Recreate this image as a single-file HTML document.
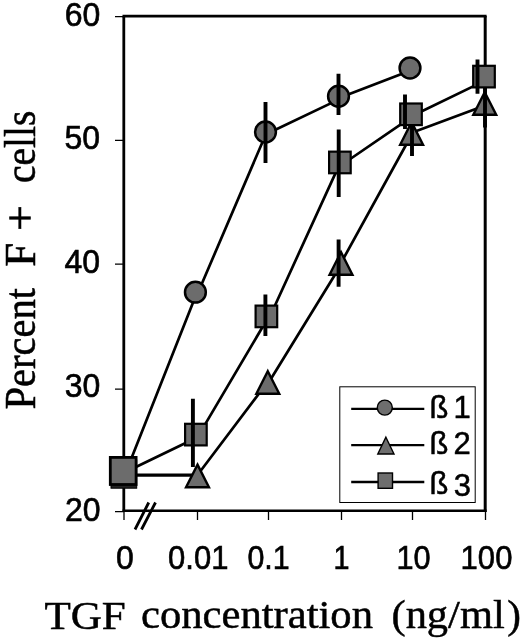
<!DOCTYPE html>
<html><head><meta charset="utf-8">
<style>
html,body{margin:0;padding:0;background:#fff;}
svg{display:block;}
.tk{font-family:"Liberation Sans",Arial,sans-serif;font-size:32px;fill:#000;stroke:#000;stroke-width:0.6px;}
.tt{font-family:"Liberation Serif","Times New Roman",serif;font-size:41px;fill:#000;stroke:#000;stroke-width:0.5px;}
.lg{font-family:"Liberation Sans",Arial,sans-serif;font-size:31px;fill:#000;stroke:#000;stroke-width:0.5px;}
</style></head><body>
<svg width="520" height="639" viewBox="0 0 520 639">
<rect width="520" height="639" fill="#fff"/>
<!-- ticks -->
<g stroke="#000" stroke-width="1.3" fill="none">
<path d="M115 16.7H124M115 140.3H124M115 264.2H124M115 389.1H124M115 511.6H124"/>
<path d="M124 511V520M197.5 511V520M268.5 511V520M341.5 511V520M412.5 511V520M485.5 511V520"/>
</g>
<!-- frame -->
<path d="M122.5 16.1H486.6" stroke="#000" stroke-width="2.7" fill="none"/>
<path d="M123.8 16V511" stroke="#000" stroke-width="2.8" fill="none"/>
<path d="M485.2 16V512" stroke="#000" stroke-width="3" fill="none"/>
<path d="M122.5 510.8H486.6" stroke="#000" stroke-width="2.6" fill="none"/>
<!-- axis break -->
<path d="M135 529.5L148.75 502.5M141.5 529.5L155.5 502.5" stroke="#000" stroke-width="2.8" fill="none"/>

<!-- series 1 circles -->
<path d="M126.00 472.00L197.20 292.00M198.30 292.00L266.80 132.00M266.50 134.00L339.00 99.40M339.00 98.00L410.00 70.70" stroke="#000" stroke-width="2.70" fill="none"/>
<g stroke="#000" stroke-width="2.5" fill="#6c6c6c">
<circle cx="195.40" cy="292.20" r="10.4"/>
<circle cx="265.50" cy="132.00" r="10.4"/>
<circle cx="338.50" cy="96.25" r="10.4"/>
<circle cx="410.00" cy="68.00" r="10.4"/>
</g>
<path d="M265.50 102.00V163.00M338.50 73.75V115.00" stroke="#000" stroke-width="3.90" fill="none"/>
<!-- series 2 triangles -->
<path d="M197.50 475.00L267.70 382.00M269.00 382.00L342.20 263.00M341.00 263.00L411.75 134.50M411.75 132.70L485.00 105.60" stroke="#000" stroke-width="2.70" fill="none"/>
<path d="M123.6 475.2H197.5" stroke="#000" stroke-width="3.3" fill="none"/>
<g stroke="#000" stroke-width="2.4" fill="#6c6c6c" stroke-linejoin="miter" stroke-miterlimit="10">
<path d="M197.50 464.65L208.95 487.20H186.05Z"/>
<path d="M267.80 371.25L279.25 393.80H256.35Z"/>
<path d="M341.00 252.15L352.45 274.70H329.55Z"/>
<path d="M411.60 122.15L423.05 144.70H400.15Z"/>
<path d="M484.75 92.25L496.20 114.80H473.30Z"/>
</g>
<path d="M338.60 239.40V286.70M412.00 120.00V156.00M485.00 85.00V127.50" stroke="#000" stroke-width="3.90" fill="none"/>
<!-- series 3 squares -->
<path d="M124.00 472.80L197.00 437.50M198.00 436.40L268.00 317.80M268.00 320.70L341.00 161.10M340.00 166.00L411.00 117.40M411.00 116.45L484.00 81.10" stroke="#000" stroke-width="2.70" fill="none"/>
<rect x="111" y="460" width="25.7" height="28.2" fill="#222" stroke="#000" stroke-width="1"/>
<g stroke="#000" stroke-width="2.2" fill="#6c6c6c">
<rect x="110.3" y="457.4" width="25.8" height="27.1" stroke-width="2.8"/>
<rect x="185.10" y="423.80" width="21.60" height="21.60"/>
<rect x="255.60" y="305.60" width="21.60" height="21.60"/>
<rect x="329.10" y="151.65" width="21.60" height="21.60"/>
<rect x="400.20" y="103.50" width="21.60" height="21.60"/>
<rect x="473.20" y="65.80" width="21.60" height="21.60"/>
</g>
<path d="M192.90 398.75V467.00M265.40 294.50V336.00M338.70 129.50V197.00M405.00 94.50V129.00M477.50 59.50V93.75" stroke="#000" stroke-width="3.90" fill="none"/>

<!-- legend -->
<rect x="339.8" y="386.8" width="135.4" height="115.7" fill="#fff" stroke="#000" stroke-width="1"/>
<g stroke="#000" stroke-width="2.4" fill="none">
<path d="M351.2 408.9H424.3M351.2 445.1H424.3M351.2 482H424.3"/>
</g>
<g stroke="#000" stroke-width="1.4" fill="#6e6e6e">
<circle cx="384.8" cy="407.6" r="7.5"/>
<path d="M385.9 437.2L394 454H377.8Z"/>
<rect x="378.1" y="473" width="14.4" height="15.3"/>
</g>
<text class="lg" x="429.5" y="418.2">ß</text><text class="lg" x="453.4" y="417.5">1</text>
<text class="lg" x="429.5" y="453.5">ß</text><text class="lg" x="453.4" y="453.5">2</text>
<text class="lg" x="429.5" y="494">ß</text><text class="lg" x="453.8" y="496">3</text>

<!-- tick labels -->
<g class="tk" text-anchor="end">
<g transform="translate(100.3 25.7) scale(1 1.045)"><text>60</text></g>
<g transform="translate(100 149.4) scale(1 1.045)"><text>50</text></g>
<g transform="translate(100 272.7) scale(1 1.045)"><text>40</text></g>
<g transform="translate(100.3 397.1) scale(1 1.045)"><text>30</text></g>
<g transform="translate(100.6 521) scale(1 1.045)"><text>20</text></g>
</g>
<g class="tk" text-anchor="middle">
<g transform="translate(125 569.3) scale(1 1.045)"><text>0</text></g>
<g transform="translate(198.3 569.3) scale(0.97 1.045)"><text>0.01</text></g>
<g transform="translate(268.5 569.3) scale(0.95 1.045)"><text>0.1</text></g>
<g transform="translate(341.5 569.3) scale(0.9 1.045)"><text>1</text></g>
<g transform="translate(413.5 569.3) scale(0.96 1.045)"><text>10</text></g>
<g transform="translate(486.5 569.3) scale(0.97 1.045)"><text>100</text></g>
</g>
<!-- titles -->
<g class="tt">
<text x="44.4" y="628.7" textLength="81.4" lengthAdjust="spacingAndGlyphs">TGF</text>
<text x="141" y="628.3" textLength="232" lengthAdjust="spacingAndGlyphs">concentration</text>
<text x="391.5" y="627.8" textLength="113.2" lengthAdjust="spacingAndGlyphs">(ng/ml</text>
<text x="507.3" y="627.8">)</text>
</g>
<g class="tt" transform="translate(35.3 408.5) rotate(-90) scale(1 1.08)">
<text x="-1" y="0" textLength="121.5" lengthAdjust="spacingAndGlyphs">Percent</text>
<text x="141.8" y="0" textLength="24" lengthAdjust="spacingAndGlyphs">F</text>
<text x="177.6" y="0" textLength="26" lengthAdjust="spacingAndGlyphs">+</text>
<text x="225.5" y="0" textLength="72.5" lengthAdjust="spacingAndGlyphs">cells</text>
</g>
</svg>
</body></html>
